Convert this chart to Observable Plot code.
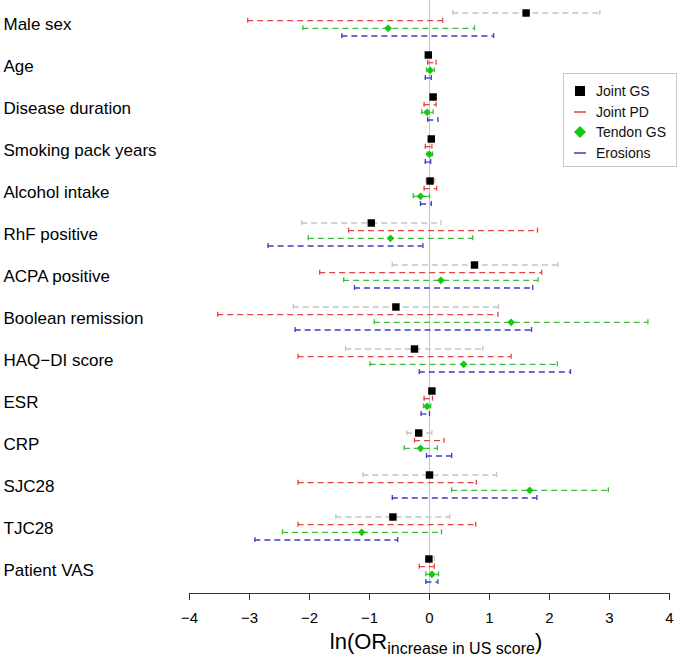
<!DOCTYPE html>
<html><head><meta charset="utf-8">
<script src="https://cdn.jsdelivr.net/npm/d3@7"></script>
<script src="https://cdn.jsdelivr.net/npm/@observablehq/plot@0.6"></script>
<style>
body{margin:0;background:#fff;font-family:"Liberation Sans",Arial,sans-serif}
#wrap{position:relative;width:680px;height:658px}
#legend{position:absolute;left:563px;top:73px;width:114px;height:94px;box-sizing:border-box;border:1px solid #c8c8c8;background:#fff;padding-top:7px}
.row{height:20.5px;display:flex;align-items:center;font-size:14px;color:#111}
.row svg{margin-left:10px;margin-right:10px}
</style></head><body><div id="wrap"><div id="legend"></div></div>
<script>
const categories = ["Male sex","Age","Disease duration","Smoking pack years","Alcohol intake","RhF positive","ACPA positive","Boolean remission","HAQ−DI score","ESR","CRP","SJC28","TJC28","Patient VAS"];
const jointGSEst = [1.61, -0.02, 0.06, 0.03, 0.01, -0.97, 0.75, -0.56, -0.25, 0.04, -0.18, 0.00, -0.61, -0.01];
const jointGSLo  = [0.39, -0.06, 0.02, 0.00, -0.06, -2.13, -0.62, -2.27, -1.40, 0.00, -0.38, -1.11, -1.56, -0.06];
const jointGSHi  = [2.84, 0.02, 0.10, 0.05, 0.09, 0.19, 2.14, 1.15, 0.89, 0.07, 0.04, 1.12, 0.34, 0.08];
const jointPDLo  = [-3.03, -0.03, -0.09, -0.07, -0.09, -1.35, -1.83, -3.53, -2.19, -0.09, -0.25, -2.19, -2.19, -0.17];
const jointPDHi  = [0.22, 0.11, 0.11, 0.04, 0.12, 1.80, 1.87, 1.14, 1.36, 0.05, 0.24, 0.78, 0.77, 0.08];
const tendonGSEst = [-0.69, 0.01, -0.04, 0.00, -0.15, -0.65, 0.19, 1.36, 0.57, -0.04, -0.15, 1.67, -1.13, 0.04];
const tendonGSLo  = [-2.11, -0.05, -0.13, -0.04, -0.27, -2.02, -1.43, -0.92, -0.99, -0.10, -0.42, 0.37, -2.45, -0.06];
const tendonGSHi  = [0.75, 0.08, 0.06, 0.05, 0.00, 0.72, 1.81, 3.64, 2.13, 0.02, 0.13, 2.98, 0.20, 0.15];
const erosionsLo  = [-1.46, -0.07, -0.03, -0.07, -0.15, -2.69, -1.25, -2.24, -0.17, -0.14, -0.05, -0.62, -2.91, -0.06];
const erosionsHi  = [1.07, 0.03, 0.14, 0.02, 0.03, -0.11, 1.72, 1.70, 2.35, 0.00, 0.37, 1.79, -0.53, 0.14];
const xTicks = [-4, -3, -2, -1, 0, 1, 2, 3, 4];
const seriesNames = ["Joint GS", "Joint PD", "Tendon GS", "Erosions"];

function rows(lo, hi, est) {
  return categories.map((c, i) => ({cat: c, lo: lo[i], hi: hi[i], est: est ? est[i] : null}));
}
const series = [
  {data: rows(jointGSLo, jointGSHi, jointGSEst), line: "#c4c4c4", dy: -11.5, symbol: "square", fill: "#000", r: 4.2},
  {data: rows(jointPDLo, jointPDHi), line: "#e04444", dy: -3.8},
  {data: rows(tendonGSLo, tendonGSHi, tendonGSEst), line: "#3dbb3d", dy: 3.8, symbol: "diamond2", fill: "#14c814", r: 3.5},
  {data: rows(erosionsLo, erosionsHi), line: "#3c3cc4", dy: 11.5}
];

const marks = [Plot.ruleX([0], {stroke: "#c4c4c4", strokeWidth: 1})];
for (const s of series) {
  marks.push(Plot.ruleY(s.data, {y: "cat", x1: "lo", x2: "hi", dy: s.dy, stroke: s.line, strokeWidth: 1.3, strokeDasharray: "6,4"}));
  for (const k of ["lo", "hi"]) {
    marks.push(Plot.tickX(s.data, {y: "cat", x: k, dy: s.dy, stroke: s.line, strokeWidth: 1.3, insetTop: 18.5, insetBottom: 18.5}));
  }
}
for (const s of series) {
  if (s.symbol) marks.push(Plot.dot(s.data, {y: "cat", x: "est", dy: s.dy, symbol: s.symbol, fill: s.fill, r: s.r, stroke: "none"}));
}
marks.push(Plot.frame({anchor: "bottom", stroke: "#333", strokeWidth: 1.2}));
marks.push(Plot.axisX({ticks: xTicks, tickSize: 7, tickPadding: 12, fontSize: 15, label: null, stroke: "#333",
  tickFormat: d => d < 0 ? "\u2212" + Math.abs(d) : String(d)}));
marks.push(Plot.axisY({ticks: [], label: null}));
marks.push(Plot.text(categories, {y: d => d, frameAnchor: "left", textAnchor: "start", dx: -186, fontSize: 17, fill: "#000"}));

const chart = Plot.plot({
  width: 680, height: 658,
  marginLeft: 189, marginRight: 11, marginTop: 0, marginBottom: 65,
  style: {fontFamily: "'Liberation Sans',Arial,sans-serif", background: "white", color: "#000"},
  x: {domain: [-4, 4]},
  y: {type: "band", domain: categories, range: [2.5, 591.6], padding: 0},
  marks
});

const svg = d3.select(chart);
const t = svg.append("text")
  .attr("x", 436).attr("y", 649)
  .attr("text-anchor", "middle")
  .attr("font-family", "'Liberation Sans',Arial,sans-serif")
  .attr("font-size", 22).attr("fill", "#000");
t.append("tspan").text("ln(OR");
t.append("tspan").attr("font-size", 16).attr("dy", 5).text("increase in US score");
t.append("tspan").attr("dy", -5).text(")");

document.getElementById("wrap").prepend(chart);

const legend = d3.select("#legend");
series.forEach((s, i) => {
  const row = legend.append("div").attr("class", "row");
  const sw = row.append("svg").attr("width", 12).attr("height", 12);
  if (s.symbol === "square") sw.append("rect").attr("x", 1).attr("y", 1).attr("width", 10).attr("height", 10).attr("fill", "#000");
  else if (s.symbol === "diamond2") sw.append("path").attr("d", "M6,0L12,6L6,12L0,6Z").attr("fill", s.fill);
  else sw.append("line").attr("x1", 0).attr("x2", 12).attr("y1", 6).attr("y2", 6).attr("stroke", s.line).attr("stroke-width", 1.5);
  row.append("span").text(seriesNames[i]);
});
</script>
</body></html>
